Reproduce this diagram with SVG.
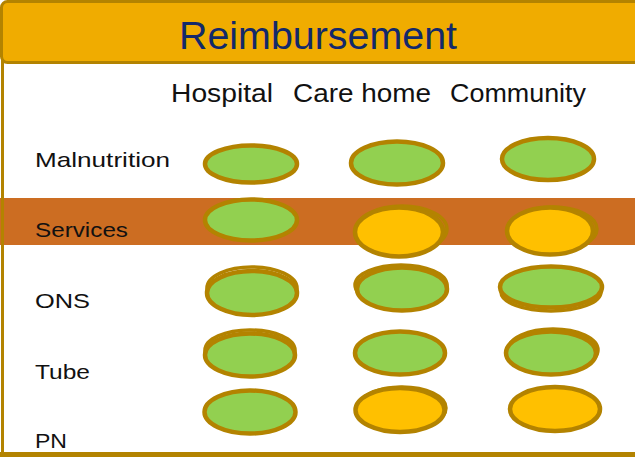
<svg xmlns="http://www.w3.org/2000/svg" width="635" height="462" viewBox="0 0 635 462">
<style>
.lbl{font-family:"Liberation Sans","DejaVu Sans",sans-serif;font-size:21px;fill:#111}
.hdr{font-family:"Liberation Sans","DejaVu Sans",sans-serif;font-size:25px;fill:#111}
.g{fill:#92D050;stroke:#B38300;stroke-width:4.5}
.y{fill:#FFC000;stroke:#B38300;stroke-width:4.5}
.o{fill:none;stroke:#B38300;stroke-width:3.5}
</style>
<rect x="0" y="0" width="635" height="462" fill="#fff"/>
<rect x="0" y="198" width="635" height="47" fill="#CC6D22"/>
<line x1="2.5" y1="60" x2="2.5" y2="457" stroke="#B38300" stroke-width="3"/>
<line x1="0" y1="454.5" x2="635" y2="454.5" stroke="#B38300" stroke-width="5"/>
<g id="title">
<rect x="1.5" y="1.5" width="640" height="61" rx="6" fill="#F0AC00" stroke="#B38300" stroke-width="3"/>
<text x="318" y="49" text-anchor="middle" font-family="Liberation Sans,DejaVu Sans,sans-serif" font-size="38" fill="#13296A" textLength="278" lengthAdjust="spacingAndGlyphs">Reimbursement</text>
</g>
<g id="headers">
<text class="hdr" x="171" y="102" textLength="102" lengthAdjust="spacingAndGlyphs">Hospital</text>
<text class="hdr" x="293" y="102" textLength="138" lengthAdjust="spacingAndGlyphs">Care home</text>
<text class="hdr" x="450" y="102" textLength="136" lengthAdjust="spacingAndGlyphs">Community</text>
</g>
<g id="rows">
<text class="lbl" x="35" y="167" textLength="135" lengthAdjust="spacingAndGlyphs">Malnutrition</text>
<text class="lbl" x="35" y="237" textLength="93" lengthAdjust="spacingAndGlyphs">Services</text>
<text class="lbl" x="35" y="308" textLength="55" lengthAdjust="spacingAndGlyphs">ONS</text>
<text class="lbl" x="35" y="379" textLength="55" lengthAdjust="spacingAndGlyphs">Tube</text>
<text class="lbl" x="35" y="448" textLength="32" lengthAdjust="spacingAndGlyphs">PN</text>
</g>
<g id="mal-hospital"><ellipse class="g" cx="251" cy="164" rx="46" ry="18.5"/></g>
<g id="mal-carehome"><ellipse class="g" cx="397" cy="163" rx="46" ry="21.5"/></g>
<g id="mal-community"><ellipse class="g" cx="548" cy="159" rx="46" ry="21"/></g>
<g id="srv-hospital"><ellipse class="g" cx="251" cy="220" rx="46" ry="20.5"/></g>
<g id="srv-carehome"><ellipse class="o" cx="402" cy="229" rx="45" ry="23"/><ellipse class="y" cx="399" cy="232" rx="44" ry="24.5"/></g>
<g id="srv-community"><ellipse class="o" cx="553" cy="229" rx="44" ry="22"/><ellipse class="y" cx="550" cy="231" rx="43" ry="23.5"/></g>
<g id="ons-hospital"><ellipse class="o" cx="252" cy="288" rx="45" ry="21"/><ellipse class="g" cx="252" cy="293" rx="45" ry="22"/></g>
<g id="ons-carehome"><ellipse class="o" cx="401" cy="285" rx="46" ry="20"/><ellipse class="g" cx="402" cy="289" rx="45" ry="21.5"/></g>
<g id="ons-community"><ellipse class="o" cx="551" cy="292" rx="50" ry="19"/><ellipse class="g" cx="551" cy="287" rx="51" ry="20.5"/></g>
<g id="tube-hospital"><ellipse class="o" cx="250" cy="350" rx="45" ry="20"/><ellipse class="g" cx="250" cy="355" rx="45" ry="21.5"/></g>
<g id="tube-carehome"><ellipse class="g" cx="400" cy="353" rx="45" ry="21.5"/></g>
<g id="tube-community"><ellipse class="o" cx="553" cy="350" rx="45" ry="21"/><ellipse class="g" cx="551" cy="353" rx="45" ry="21.5"/></g>
<g id="pn-hospital"><ellipse class="g" cx="250" cy="412" rx="45.5" ry="21.5"/></g>
<g id="pn-carehome"><ellipse class="o" cx="402" cy="408" rx="44" ry="21"/><ellipse class="y" cx="400" cy="410" rx="44.5" ry="22"/></g>
<g id="pn-community"><ellipse class="y" cx="555" cy="409" rx="45" ry="22"/></g>
</svg>
